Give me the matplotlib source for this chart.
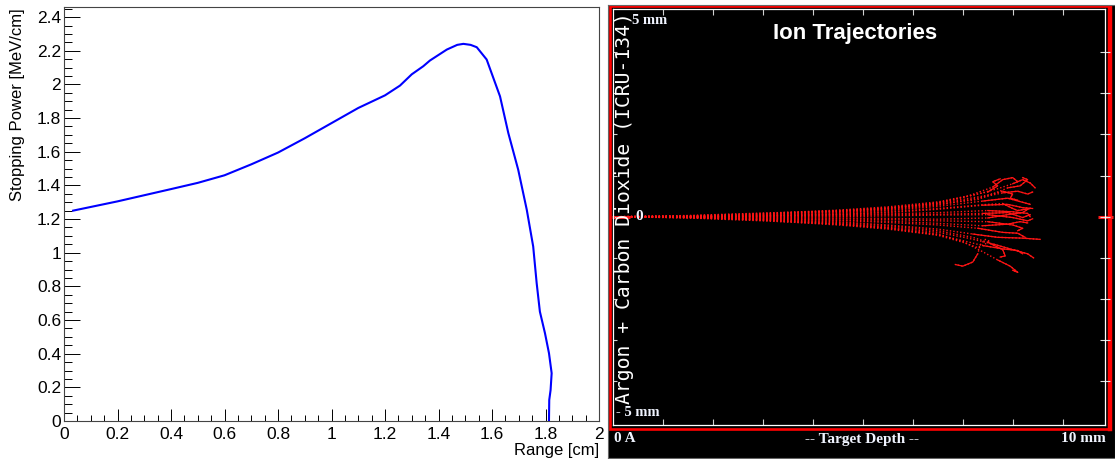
import matplotlib
matplotlib.use("Agg")
import matplotlib.pyplot as plt
from matplotlib.patches import Rectangle

W, H = 1115, 459

# stopping power curve (left panel)
range_cm = [0.034, 0.2, 0.4, 0.5, 0.6, 0.7, 0.8, 0.9, 1.0, 1.1, 1.2, 1.256, 1.3, 1.343,
            1.368, 1.431, 1.47, 1.493, 1.52, 1.543, 1.58, 1.63, 1.661, 1.698,
            1.73, 1.754, 1.767, 1.779, 1.798, 1.813, 1.823, 1.819, 1.814, 1.813]
stopping = [1.25, 1.305, 1.378, 1.415, 1.46, 1.525, 1.595, 1.68, 1.77, 1.86, 1.935, 1.993,
            2.06, 2.108, 2.142, 2.207, 2.235, 2.241, 2.235, 2.221, 2.148, 1.929, 1.711,
            1.493, 1.255, 1.037, 0.819, 0.65, 0.522, 0.403, 0.284, 0.184, 0.125, 0.0]

y_ticks = [0, 0.2, 0.4, 0.6, 0.8, 1, 1.2, 1.4, 1.6, 1.8, 2, 2.2, 2.4]
x_ticks = [0, 0.2, 0.4, 0.6, 0.8, 1, 1.2, 1.4, 1.6, 1.8, 2]

# ion tracks (right panel), (depth mm, lateral mm)
tracks = [
    [(0, 0), (1.5, 0.01), (3, 0.05), (4.5, 0.12), (5.5, 0.2), (6.5, 0.34), (7.1, 0.5), (7.6, 0.72), (7.8, 0.9), (8.0, 0.95), (8.1, 0.85)],
    [(0, 0), (1.5, 0.02), (3, 0.07), (4.5, 0.15), (5.5, 0.22), (6.5, 0.33), (7.2, 0.52), (7.7, 0.68), (8.0, 0.8), (8.2, 0.9), (8.35, 0.82), (8.45, 0.7)],
    [(0, 0), (1.5, 0.0), (3, 0.04), (4.5, 0.1), (5.5, 0.17), (6.5, 0.28), (7.3, 0.45), (7.8, 0.58), (8.1, 0.62), (8.3, 0.55), (8.4, 0.6)],
    [(0, 0), (1.5, -0.01), (3, 0.02), (4.5, 0.08), (5.5, 0.15), (6.5, 0.25), (7.4, 0.38), (7.9, 0.45), (8.2, 0.35), (8.35, 0.3)],
    [(0, 0), (1.5, 0.01), (3, 0.03), (4.5, 0.06), (5.5, 0.1), (6.5, 0.18), (7.4, 0.28), (7.9, 0.3), (8.2, 0.22), (8.4, 0.2)],
    [(0, 0), (1.5, 0.0), (3, 0.01), (4.5, 0.04), (5.5, 0.07), (6.5, 0.1), (7.5, 0.15), (8.0, 0.12), (8.3, 0.08), (8.35, 0.0)],
    [(0, 0), (1.5, 0.0), (3, -0.01), (4.5, 0.0), (5.5, 0.02), (6.5, 0.04), (7.5, 0.05), (8.0, -0.02), (8.3, -0.1), (8.4, -0.05)],
    [(0, 0), (1.5, -0.01), (3, -0.03), (4.5, -0.05), (5.5, -0.07), (6.5, -0.1), (7.5, -0.12), (8.0, -0.2), (8.2, -0.28), (8.1, -0.34)],
    [(0, 0), (1.5, -0.02), (3, -0.05), (4.5, -0.09), (5.5, -0.14), (6.5, -0.2), (7.3, -0.28), (7.8, -0.38), (8.1, -0.4), (8.25, -0.5)],
    [(0, 0), (1.5, -0.01), (3, -0.06), (4.5, -0.12), (5.5, -0.2), (6.5, -0.3), (7.2, -0.42), (7.7, -0.5), (8.2, -0.52), (8.55, -0.55)],
    [(0, 0), (1.5, -0.02), (3, -0.08), (4.5, -0.16), (5.5, -0.25), (6.5, -0.38), (7.1, -0.52), (7.6, -0.66), (8.0, -0.8), (8.3, -0.9), (8.42, -1.0)],
    [(0, 0), (1.5, -0.03), (3, -0.1), (4.5, -0.18), (5.5, -0.27), (6.5, -0.42), (7.0, -0.6), (7.4, -0.85), (7.7, -1.05), (7.95, -1.2), (8.1, -1.35), (8.0, -1.3)],
    [(0, 0), (1.5, -0.02), (3, -0.09), (4.5, -0.2), (5.5, -0.3), (6.5, -0.45), (7.0, -0.62), (7.3, -0.75), (7.55, -0.6), (7.45, -0.55), (7.35, -0.68), (7.3, -0.9), (7.2, -1.1), (7.0, -1.2), (6.85, -1.16)],
    [(0, 0), (1.5, 0.02), (3, 0.08), (4.5, 0.16), (5.5, 0.24), (6.5, 0.36), (7.0, 0.48), (7.5, 0.6), (7.7, 0.75), (7.6, 0.85), (7.75, 0.92)],
    [(0, 0), (1.5, 0.01), (3, 0.06), (4.5, 0.13), (5.5, 0.19), (6.5, 0.3), (7.3, 0.42), (7.6, 0.55), (7.9, 0.7), (8.15, 0.75), (8.3, 0.9), (8.2, 0.95)],
    [(0, 0), (1.5, 0.0), (3, 0.02), (4.5, 0.05), (5.5, 0.12), (6.5, 0.2), (7.5, 0.3), (7.8, 0.32), (8.0, 0.2), (8.1, 0.15), (8.35, 0.2)],
    [(0, 0), (1.5, 0.01), (3, -0.02), (4.5, -0.03), (5.5, -0.04), (6.5, -0.06), (7.5, -0.03), (7.9, 0.05), (8.2, 0.1), (8.3, 0.18)],
    [(0, 0), (1.5, -0.01), (3, -0.04), (4.5, -0.08), (5.5, -0.11), (6.5, -0.16), (7.4, -0.22), (7.9, -0.18), (8.15, -0.12), (8.3, -0.15)],
    [(0, 0), (1.5, -0.02), (3, -0.07), (4.5, -0.14), (5.5, -0.22), (6.5, -0.34), (7.2, -0.5), (7.5, -0.62), (7.8, -0.8), (7.85, -0.95), (7.75, -0.98)],
    [(0, 0), (1.5, -0.01), (3, -0.08), (4.5, -0.18), (5.5, -0.28), (6.5, -0.44), (7.0, -0.58), (7.4, -0.7), (7.8, -0.78), (8.1, -0.82), (8.2, -0.9)],
    [(0, 0), (1.5, 0.03), (3, 0.09), (4.5, 0.14), (5.5, 0.21), (6.5, 0.32), (7.4, 0.5), (7.8, 0.62), (8.0, 0.55), (7.95, 0.45), (8.1, 0.4)],
    [(0, 0), (1.5, 0.0), (3, 0.0), (4.5, 0.02), (5.5, 0.05), (6.5, 0.06), (7.4, 0.08), (7.9, 0.1), (8.2, -0.02), (8.35, 0.05)],
]
depth_ticks = [1, 2, 3, 4, 5, 6, 7, 8, 9]
lateral_ticks = [-4, -3, -2, -1, 0, 1, 2, 3, 4]
TAIL = 4


def box(x0, y0, x1, y1):
    # pixel box (top-left origin) -> figure fraction rect
    return [x0 / W, 1 - y1 / H, (x1 - x0) / W, (y1 - y0) / H]


def fpos(x, y):
    return x / W, 1 - y / H


fig = plt.figure(figsize=(W / 100, H / 100), dpi=100)
fig.patch.set_facecolor("white")

# ---- left: stopping power ----
ax = fig.add_axes(box(64, 7, 599, 421))
ax.plot(range_cm, stopping, color="#0000ff", lw=1.5)
ax.set_xlim(0, 2.0)
ax.set_ylim(0, 2.46)
ax.set_xticks(x_ticks)
ax.set_xticklabels([f"{v:g}" for v in x_ticks])
ax.set_yticks(y_ticks)
ax.set_yticklabels([f"{v:g}" for v in y_ticks])
ax.set_xticks([i * 0.05 for i in range(41)], minor=True)
ax.set_yticks([i * 0.05 for i in range(50)], minor=True)
ax.tick_params(axis="y", which="major", direction="in", length=11.5, width=0.7,
               labelsize=12.5, pad=2, right=False)
ax.tick_params(axis="y", which="minor", direction="in", length=5.8, width=0.7, right=False)
ax.tick_params(axis="x", which="major", direction="in", length=8.6, width=0.7,
               labelsize=12.5, pad=4, top=False)
ax.tick_params(axis="x", which="minor", direction="in", length=4.3, width=0.7, top=False)
for lab in ax.get_xticklabels() + ax.get_yticklabels():
    lab.set_family("Liberation Sans")
for s in ax.spines.values():
    s.set_linewidth(0.8)
    s.set_color("#444444")

fig.text(*fpos(18, 8), "Stopping Power [MeV/cm]", rotation=90, ha="center", va="top",
         fontsize=12, family="Liberation Sans")
fig.text(*fpos(599, 450), "Range [cm]", ha="right", va="center", fontsize=12,
         family="Liberation Sans")

# ---- right: ion trajectories ----
bg = fig.add_axes(box(608, 5, 1115, 458))
bg.set_facecolor("black")
bg.set_xlim(608, 1115)
bg.set_ylim(458, 5)
bg.set_xticks([])
bg.set_yticks([])
for s in bg.spines.values():
    s.set_color("#666666")
    s.set_linewidth(0.8)
bg.add_patch(Rectangle((610, 6.2), 1109 - 610, 428.5 - 6.2, fill=False,
                       ec="#ff0000", lw=1.9))
bg.plot([1109.5, 1109.5], [6.2, 428.5], color="#ff0000", lw=3.2)
bg.plot([612, 630], [217, 217], color="#ff1a1a", lw=2.2, solid_capstyle="butt")
bg.plot([1098, 1113], [216.5, 216.5], color="#ff1a1a", lw=2.2, solid_capstyle="butt")

tr = fig.add_axes(box(612.8, 8.7, 1105, 425))
tr.patch.set_alpha(0)
for t in tracks:
    xs = [p[0] for p in t]
    ys = [p[1] for p in t]
    tr.plot(xs, ys, color="#ff1414", lw=1.0, ls=(0, (1, 1.5)))
    tr.plot(xs[-TAIL:], ys[-TAIL:], color="#ff1414", lw=0.9)
tr.set_xlim(-0.014, 9.85)
tr.set_ylim(-5.056, 5.05)
tr.set_xticks(depth_ticks)
tr.set_yticks(lateral_ticks)
tr.tick_params(axis="x", which="both", direction="in", length=4.5, width=0.8,
               color="#d0d0d0", top=True, bottom=True, labelbottom=False)
tr.tick_params(axis="y", which="both", direction="in", length=3, width=0.8,
               color="#d0d0d0", left=True, right=False, labelleft=False)
tr2 = tr.secondary_yaxis("right")
tr2.set_yticks(lateral_ticks)
tr2.tick_params(direction="inout", length=7.5, width=0.8, color="#e0e0e0", labelright=False)
tr2.spines["right"].set_visible(False)
for s in tr.spines.values():
    s.set_color("white")
    s.set_linewidth(0.9)

txt = "#f0f4ff"
fig.text(*fpos(855, 33), "Ion Trajectories", ha="center", va="center", color="white",
         fontsize=16, weight="bold", family="Liberation Sans")
fig.text(*fpos(625, 208.5), "Argon + Carbon Dioxide (ICRU-134)", rotation=90,
         ha="center", va="center", color="white", fontsize=14.2, family="DejaVu Sans Mono")
fig.text(*fpos(632, 21), "5 mm", ha="left", va="center", color=txt, fontsize=10.5,
         weight="bold", family="Liberation Serif")
fig.text(*fpos(616, 412), "- 5 mm", ha="left", va="center", color=txt, fontsize=10.5,
         weight="bold", family="Liberation Serif")
fig.text(*fpos(635, 217), "0", ha="left", va="center", color=txt, fontsize=11,
         weight="bold", family="Liberation Serif")
fig.text(*fpos(614, 439), "0 A", ha="left", va="center", color=txt, fontsize=11,
         weight="bold", family="Liberation Serif")
fig.text(*fpos(862, 439), "-- Target Depth --", ha="center", va="center", color=txt,
         fontsize=11, weight="bold", family="Liberation Serif")
fig.text(*fpos(1106, 439), "10 mm", ha="right", va="center", color=txt, fontsize=11,
         weight="bold", family="Liberation Serif")

fig.savefig("out.png", dpi=100)
